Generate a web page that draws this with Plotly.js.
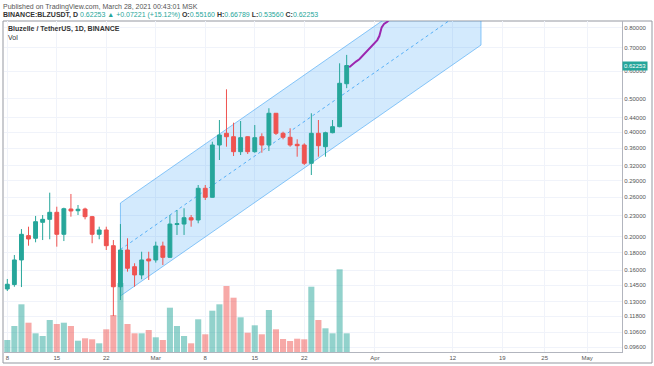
<!DOCTYPE html>
<html>
<head>
<meta charset="utf-8">
<script src="https://cdn.plot.ly/plotly-3.0.1.min.js"></script>
<style>
  html, body { margin: 0; padding: 0; background: #ffffff; }
  #chart { width: 654px; height: 366px; }
</style>
</head>
<body>
<div id="chart"></div>
<script>
// ---- data ----
const dates = [
  '2021-02-08','2021-02-09','2021-02-10','2021-02-11','2021-02-12','2021-02-13','2021-02-14',
  '2021-02-15','2021-02-16','2021-02-17','2021-02-18','2021-02-19','2021-02-20','2021-02-21',
  '2021-02-22','2021-02-23','2021-02-24','2021-02-25','2021-02-26','2021-02-27','2021-02-28',
  '2021-03-01','2021-03-02','2021-03-03','2021-03-04','2021-03-05','2021-03-06','2021-03-07',
  '2021-03-08','2021-03-09','2021-03-10','2021-03-11','2021-03-12','2021-03-13','2021-03-14',
  '2021-03-15','2021-03-16','2021-03-17','2021-03-18','2021-03-19','2021-03-20','2021-03-21',
  '2021-03-22','2021-03-23','2021-03-24','2021-03-25','2021-03-26','2021-03-27','2021-03-28'
];
const openP = [0.1413,0.1455,0.1713,0.2013,0.1978,0.2199,0.2243,0.2350,0.2031,0.2402,0.2375,0.2402,0.2283,0.2031,
  0.2090,0.1883,0.1434,0.1830,0.1638,0.1551,0.1724,0.1713,0.1879,0.1743,0.2167,0.2174,0.2267,0.2233,
  0.2756,0.2596,0.3673,0.3970,0.3881,0.3514,0.3881,0.3514,0.3881,0.3673,0.4534,0.3970,0.3866,0.3690,
  0.3673,0.3253,0.3970,0.3632,0.3986,0.4148,0.5516];
const highP = [0.1510,0.1770,0.2103,0.2136,0.2294,0.2308,0.2677,0.2439,0.2423,0.2654,0.2467,0.2423,0.2294,0.2136,
  0.2136,0.1955,0.2174,0.1978,0.1676,0.1809,0.1809,0.1934,0.1934,0.2308,0.2386,0.2414,0.2308,0.2817,
  0.2817,0.3754,0.4336,0.5315,0.4259,0.4307,0.3891,0.4194,0.3970,0.4687,0.4540,0.4012,0.4104,0.3815,
  0.3715,0.4534,0.4336,0.4012,0.4336,0.6317,0.6679];
const lowP = [0.1394,0.1434,0.1431,0.1883,0.1926,0.1955,0.1965,0.1871,0.1942,0.2283,0.2308,0.2243,0.1914,0.1965,
  0.1830,0.1181,0.1313,0.1585,0.1434,0.1507,0.1500,0.1683,0.1657,0.1735,0.2022,0.2022,0.2136,0.2185,
  0.2550,0.2590,0.3325,0.3632,0.3414,0.3437,0.3460,0.3490,0.3490,0.3530,0.3926,0.3815,0.3632,0.3399,
  0.3217,0.3010,0.3399,0.3399,0.3970,0.4131,0.5356];
const closeP = [0.1458,0.1713,0.2031,0.1969,0.2208,0.2243,0.2350,0.2031,0.2407,0.2371,0.2398,0.2283,0.2031,0.2090,
  0.1883,0.1434,0.1830,0.1621,0.1551,0.1713,0.1702,0.1879,0.1743,0.2174,0.2179,0.2267,0.2233,0.2756,
  0.2596,0.3673,0.3926,0.3881,0.3514,0.3856,0.3514,0.3856,0.3673,0.4534,0.3970,0.3866,0.3673,0.3656,
  0.3253,0.3970,0.3656,0.3986,0.4148,0.5532,0.6225];
const volume = [12,26,47.7,29.3,18.7,16,32,28,29.3,26,11.3,13.7,12.7,8.7,
  22.7,37,69,28,18.7,18.7,22,14.7,12,44.3,26,16,8.7,32.7,
  17.7,41.3,47.7,66,54.3,34.7,19.3,26.7,17.7,42,22.7,13,11,13.3,
  12.7,65.3,32,23.7,18.7,82.7,18.7];

// parallel channel drawn on the chart
const channelX = ['2021-02-24','2021-04-16','2021-04-16','2021-02-24','2021-02-24'];
const channelY = [0.1349, 0.713, 1.322, 0.250, 0.1349];
const midX = ['2021-02-24','2021-04-16'];
const midY = [0.1836, 0.971];

// projected path (purple)
const projX = ['2021-03-28 08:38','2021-03-28 22:34','2021-03-29 07:41','2021-03-29 18:58','2021-03-30 03:07',
  '2021-03-30 14:24','2021-03-31 01:26','2021-03-31 12:58','2021-04-01 00:00','2021-04-01 07:55',
  '2021-04-01 14:53','2021-04-01 19:26','2021-04-01 22:48','2021-04-02 06:43','2021-04-02 18:00','2021-04-03 19:12'];
const projY = [0.615,0.632,0.639,0.649,0.660,0.675,0.690,0.705,0.724,0.737,0.757,0.779,0.802,0.820,0.832,0.880];

// axis ticks
const xTickVals = ['2021-02-08','2021-02-15','2021-02-22','2021-03-01','2021-03-08','2021-03-15','2021-03-22',
  '2021-04-01','2021-04-12','2021-04-19','2021-04-25','2021-05-01'];
const xTickText = ['8','15','22','Mar','8','15','22','Apr','12','19','25','May'];
const yTickVals = [0.8,0.7,0.6,0.5,0.44,0.4,0.36,0.32,0.29,0.26,0.23,0.2,0.18,0.16,0.145,0.13,0.118,0.106,0.096];
const yTickText = ['0.80000','0.70000','0.60000','0.50000','0.44000','0.40000','0.36000','0.32000','0.29000',
  '0.26000','0.23000','0.20000','0.18000','0.16000','0.14500','0.13000','0.11800','0.10600','0.09600'];

const lastClose = 0.62253;

// ---- styling ----
const UP = '#26a69a', DOWN = '#ef5350';
const UP_VOL = 'rgba(38,166,154,0.5)', DOWN_VOL = 'rgba(239,83,80,0.5)';
const volColors = closeP.map((c, i) => c >= openP[i] ? UP_VOL : DOWN_VOL);
const FONT = 'Liberation Sans, Arial, sans-serif';
const PRICE_RANGE = [-1.0315, -0.0776];

const traces = [
  // base layer: channel (log price axis y)
  { type: 'scatter', mode: 'lines', x: channelX, y: channelY, yaxis: 'y', fill: 'toself',
    fillcolor: 'rgba(33,150,243,0.2)', line: { color: 'rgba(33,150,243,0.5)', width: 1 }, hoverinfo: 'skip' },
  { type: 'scatter', mode: 'lines', x: midX, y: midY, yaxis: 'y',
    line: { color: 'rgba(33,150,243,0.7)', width: 1, dash: 'dot' }, hoverinfo: 'skip' },
  // volume (linear axis y2)
  { type: 'bar', x: dates, y: volume, marker: { color: volColors, line: { width: 0 } },
    width: 0.86 * 86400000, yaxis: 'y2', hoverinfo: 'skip' },
  // price (log axis y3)
  { type: 'candlestick', x: dates, open: openP, high: highP, low: lowP, close: closeP, yaxis: 'y3',
    increasing: { line: { color: UP, width: 1 }, fillcolor: UP },
    decreasing: { line: { color: DOWN, width: 1 }, fillcolor: DOWN },
    whiskerwidth: 0, hoverinfo: 'skip' },
  { type: 'scatter', mode: 'lines', x: projX, y: projY, yaxis: 'y3',
    line: { color: '#9c27b0', width: 2 }, hoverinfo: 'skip' }
];

const W = 618, H = 331;
const px = v => (v - 4) / W;
const py = v => (352 - v) / H;

const layout = {
  width: 654, height: 366,
  margin: { l: 4, r: 32, t: 21, b: 14, pad: 0 },
  paper_bgcolor: '#ffffff', plot_bgcolor: '#ffffff',
  showlegend: false,
  boxgap: 0.22,
  font: { family: FONT, size: 6, color: '#555' },
  xaxis: {
    type: 'date', range: ['2021-02-07 12:48', '2021-05-05 22:34'],
    tickvals: xTickVals, ticktext: xTickText, tickangle: 0,
    showgrid: true, gridcolor: '#f0f3fa', gridwidth: 1,
    showline: true, linecolor: '#b2b5be', linewidth: 1, ticks: '',
    rangeslider: { visible: false }, fixedrange: true, zeroline: false,
    tickfont: { family: FONT, size: 6, color: '#555' }
  },
  yaxis: { type: 'log', range: PRICE_RANGE, visible: false, showgrid: false, fixedrange: true, zeroline: false },
  yaxis2: { range: [0, 331], overlaying: 'y', visible: false, showgrid: false, fixedrange: true, zeroline: false },
  yaxis3: {
    type: 'log', overlaying: 'y', side: 'right', range: PRICE_RANGE,
    tickvals: yTickVals, ticktext: yTickText, ticks: '',
    showgrid: true, gridcolor: '#f0f3fa', gridwidth: 1,
    showline: true, linecolor: '#b2b5be', linewidth: 1, zeroline: false, fixedrange: true,
    tickfont: { family: FONT, size: 6, color: '#555' }
  },
  shapes: [
    { type: 'rect', xref: 'paper', yref: 'paper', x0: px(3), x1: px(652), y0: py(363), y1: py(21),
      line: { color: '#9598a1', width: 1 }, fillcolor: 'rgba(0,0,0,0)', layer: 'below' }
  ],
  annotations: [
    { xref: 'paper', yref: 'paper', x: px(1), y: py(6.5), xanchor: 'left', yanchor: 'middle', showarrow: false,
      text: 'Published on TradingView.com, March 28, 2021 00:43:01 MSK',
      font: { family: FONT, size: 7, color: '#555' } },
    { xref: 'paper', yref: 'paper', x: px(1), y: py(15), xanchor: 'left', yanchor: 'middle', showarrow: false,
      text: '<b>BINANCE:BLZUSDT, D</b> <span style="color:#26a69a">0.62253 ▲ +0.07221 (+15.12%)</span> ' +
            '<b>O:</b><span style="color:#26a69a">0.55160</span> <b>H:</b><span style="color:#26a69a">0.66789</span> ' +
            '<b>L:</b><span style="color:#26a69a">0.53560</span> <b>C:</b><span style="color:#26a69a">0.62253</span>',
      font: { family: FONT, size: 7, color: '#333' } },
    { xref: 'paper', yref: 'paper', x: px(6), y: py(29), xanchor: 'left', yanchor: 'middle', showarrow: false,
      text: '<b>Bluzelle / TetherUS, 1D, BINANCE</b>', font: { family: FONT, size: 7, color: '#333' } },
    { xref: 'paper', yref: 'paper', x: px(6), y: py(37), xanchor: 'left', yanchor: 'middle', showarrow: false,
      text: 'Vol', font: { family: FONT, size: 7, color: '#333' } },
    { xref: 'paper', yref: 'y3', x: 1, y: Math.log10(lastClose), xanchor: 'left', yanchor: 'middle',
      showarrow: false, text: '0.62253', bgcolor: UP, borderpad: 1,
      font: { family: FONT, size: 6, color: '#ffffff' } }
  ]
};

Plotly.newPlot('chart', traces, layout, { staticPlot: true, displayModeBar: false });
</script>
</body>
</html>
